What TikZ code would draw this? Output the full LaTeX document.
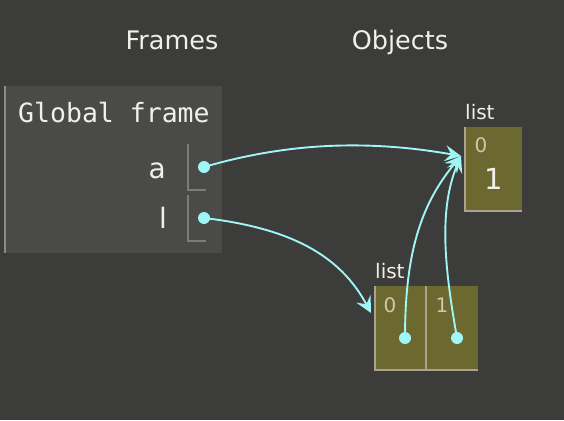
\documentclass[tikz,border=0pt]{standalone}
\usepackage{fontspec}
\setmainfont{DejaVu Sans}
\setmonofont{DejaVu Sans Mono}
\usetikzlibrary{arrows.meta, positioning}

\definecolor{bgcol}{HTML}{3C3C3A}
\definecolor{framecol}{HTML}{4A4A48}
\definecolor{framebar}{HTML}{8B8B87}
\definecolor{slotcol}{HTML}{7C7C78}
\definecolor{olive}{HTML}{6B6830}
\definecolor{cellline}{HTML}{ABA38D}
\definecolor{ptrcol}{HTML}{A0F5F5}
\definecolor{txtcol}{HTML}{F2F0E6}
\definecolor{idxcol}{HTML}{CFC7AC}

\begin{document}
\begin{tikzpicture}[x=1pt, y=-1pt, >={Stealth[length=16pt,width=16pt,inset=6pt]},
    heading/.style={text=txtcol, inner sep=0pt, anchor=base, font=\fontsize{25.5}{25.5}\selectfont},
    framebox/.style={fill=framecol, inner sep=0pt, anchor=north west},
    varname/.style={text=txtcol, inner sep=0pt, anchor=base east, font=\fontsize{28}{28}\selectfont},
    slot/.style={draw=slotcol, line width=1.5pt},
    dot/.style={circle, fill=ptrcol, inner sep=0pt, minimum size=12pt},
    listcell/.style={fill=olive, inner sep=0pt, anchor=north west, minimum height=85pt},
    cellborder/.style={draw=cellline, line width=2pt},
    typelabel/.style={text=txtcol, inner sep=0pt, anchor=base west, font=\fontsize{20}{20}\selectfont},
    index/.style={text=idxcol, inner sep=0pt, font=\fontsize{20}{20}\selectfont},
    value/.style={text=txtcol, inner sep=0pt, font=\fontsize{29}{29}\selectfont},
    ptr/.style={draw=ptrcol, line width=1.9pt, ->}]
     \useasboundingbox[fill=bgcol] (0,0) rectangle (564,420);

     \node[heading] (frames)  at (172,49) {Frames};
     \node[heading] (objects) at (400,49) {Objects};

     % global frame
     \node[framebox, minimum width=218pt, minimum height=167pt] (global) at (4,86) {};
     \draw[draw=framebar, line width=2pt] ([xshift=1pt]global.north west) -- ([xshift=1pt]global.south west);
     \node[text=txtcol, inner sep=0pt, anchor=base west, font=\ttfamily\fontsize{26.5}{26.5}\selectfont]
          (title) at (18,122) {Global frame};
     \node[varname] (aname) at (166,178) {a};
     \node[varname] (lname) at (167,228) {l};
     \draw[slot] (188,144) |- (206,190);
     \draw[slot] (188,195) |- (206,241);
     \node[dot] (adot) at (204,167) {};
     \node[dot] (ldot) at (204,218) {};

     % list [1]
     \node[listcell, minimum width=58pt] (list1) at (464,127) {};
     \draw[cellborder] ([xshift=1pt]list1.north west) |- ([yshift=1pt]list1.south east);
     \node[typelabel] (list1label) at (465,119) {list};
     \node[index] (list1i0) at (481,145) {0};
     \node[value] (list1v0) at (494,179) {1};

     % list [a, a]
     \node[listcell, minimum width=52pt] (cell0) at (374,286) {};
     \node[listcell, minimum width=51pt] (cell1) at (cell0.north east) {};
     \draw[cellborder] ([xshift=1pt]cell0.north west) |- ([yshift=1pt]cell1.south east);
     \draw[cellborder] (cell1.north west) -- (cell1.south west);
     \node[typelabel] (list2label) at (375,278) {list};
     \node[index] (cell0i) at (390,305) {0};
     \node[index] (cell1i) at (442,305) {1};
     \node[dot] (c0dot) at (405,338) {};
     \node[dot] (c1dot) at (457,338) {};

     \coordinate (list1in) at (461,156);
     \coordinate (list2in) at (371,313);

     \draw[ptr] (adot.center) .. controls (290,142) and (370,140) .. (list1in);
     \draw[ptr] (ldot.center) .. controls (290,228) and (340,255) .. (list2in);
     \draw[ptr] (c0dot.center) .. controls (405,255) and (420,205) .. (list1in);
     \draw[ptr] (c1dot.center) .. controls (445,270) and (438,210) .. (list1in);
\end{tikzpicture}
\end{document}
